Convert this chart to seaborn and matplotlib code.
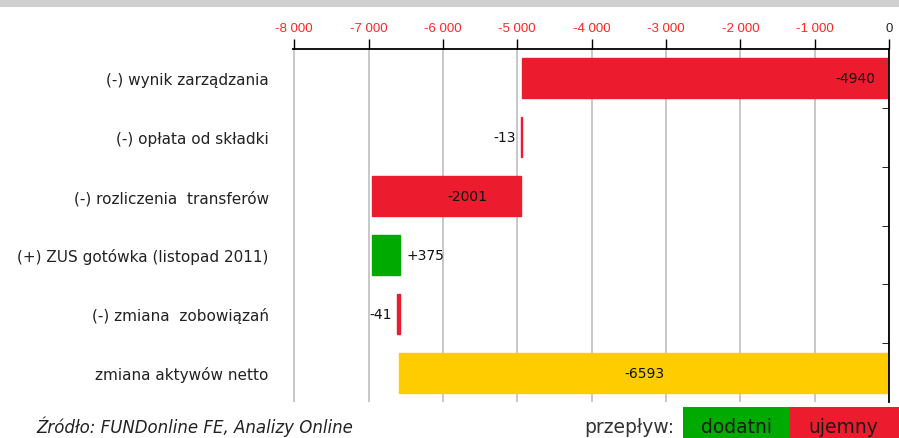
import matplotlib
matplotlib.use("Agg")
import matplotlib.pyplot as plt
import matplotlib.patches as mpatches
import seaborn as sns
import numpy as np
import pandas as pd

# dane
kategorie = ["(-) wynik zarządzania", "(-) opłata od składki", "(-) rozliczenia  transferów",
             "(+) ZUS gotówka (listopad 2011)", "(-) zmiana  zobowiązań", "zmiana aktywów netto"]
zmiany = [-4940, -13, -2001, 375, -41]
suma = -6593
etykiety = ["-4940", "-13", "-2001", "+375", "-41", "-6593"]
ticki = [-8000, -7000, -6000, -5000, -4000, -3000, -2000, -1000, 0]
tick_labels = ["-8 000", "-7 000", "-6 000", "-5 000", "-4 000", "-3 000", "-2 000", "-1 000", "0"]

RED = "#EC1C2E"
GREEN = "#00AA00"
YELLOW = "#FFCC00"

starts = list(np.concatenate([[0], np.cumsum(zmiany)[:-1]])) + [0]
widths = zmiany + [suma]
colors = [GREEN if w > 0 else RED for w in zmiany] + [YELLOW]

df = pd.DataFrame({"kat": kategorie, "w": widths, "start": starts})

sns.set_style("white")
plt.rcParams["font.family"] = ["DejaVu Sans"]

fig = plt.figure(figsize=(8.99, 4.39), dpi=100)
ax = fig.add_axes([0.326, 0.082, 0.663, 0.804])

sns.barplot(data=df, x="w", y="kat", color=RED, left=df["start"], width=0.68,
            ax=ax, orient="h", saturation=1)
for p, c in zip(ax.patches, colors):
    p.set_facecolor(c)
    p.set_edgecolor(c)
    p.set_linewidth(1)

ax.set_xlim(-8015, 0)
ax.set_ylim(5.5, -0.5)
ax.set_xlabel("")
ax.set_ylabel("")

# siatka
ax.set_axisbelow(True)
ax.xaxis.grid(True, color="#C8C8C8", lw=1.4)
ax.yaxis.grid(False)

# oś X u góry
ax.xaxis.tick_top()
ax.set_xticks(ticki)
ax.set_xticklabels(tick_labels, fontsize=9.5, family="Liberation Sans")
for t in ax.get_xticklabels()[:-1]:
    t.set_color("#FF2626")
ax.tick_params(axis="x", top=True, bottom=False, length=7, width=1, color="black", pad=4)

ax.tick_params(axis="y", left=False, labelsize=11, pad=14)
for t in ax.get_yticklabels():
    t.set_color("#222222")
ax.set_yticks(np.arange(0.5, 5.5, 1), minor=True)
ax.tick_params(axis="y", which="minor", right=True, left=False, direction="in", length=5, color="black")

for s in ["top", "right"]:
    ax.spines[s].set_color("black")
    ax.spines[s].set_linewidth(1.3)
ax.spines["left"].set_visible(False)
ax.spines["bottom"].set_visible(False)

# etykiety wartości
for i, (s, w, lab) in enumerate(zip(starts, widths, etykiety)):
    end = s + w
    kw = dict(va="center", fontsize=10, color="#111111")
    if abs(w) < 100:
        ax.text(min(s, end) - 70, i, lab, ha="right", **kw)
    elif w > 0:
        ax.text(end + 90, i, lab, ha="left", **kw)
    elif i == len(widths) - 1:
        ax.text(s + w / 2, i, lab, ha="center", **kw)
    elif i == 0:
        ax.text(s - 180, i, lab, ha="right", **kw)
    else:
        ax.text(s + w * 0.36, i, lab, ha="center", **kw)

# szary pasek u góry (ucięty tytuł)
fig.patches.append(mpatches.Rectangle((0, 1 - 8 / 439), 1, 8 / 439, transform=fig.transFigure,
                                      facecolor="#CFCFCF", edgecolor="none"))

# źródło
fig.text(0.041, 0.027, "Źródło: FUNDonline FE, Analizy Online", fontsize=12, style="italic",
         color="#222222", va="center")

# legenda przepływu
fig.text(0.750, 0.027, "przepływ:", fontsize=13.5, color="#333333", ha="right", va="center")
bx, bw, by, bh = 683 / 899, 107 / 899, 0, 31 / 439
fig.patches.append(mpatches.Rectangle((bx, by), bw, bh, transform=fig.transFigure,
                                      facecolor=GREEN, edgecolor="none"))
fig.patches.append(mpatches.Rectangle((bx + bw, by), bw + 2 / 899, bh, transform=fig.transFigure,
                                      facecolor=RED, edgecolor="none"))
fig.text(bx + bw / 2, 0.027, "dodatni", fontsize=13.5, color="#1a1a1a", ha="center", va="center")
fig.text(bx + bw * 1.5, 0.027, "ujemny", fontsize=13.5, color="#1a1a1a", ha="center", va="center")

fig.savefig("out.png", dpi=100)
